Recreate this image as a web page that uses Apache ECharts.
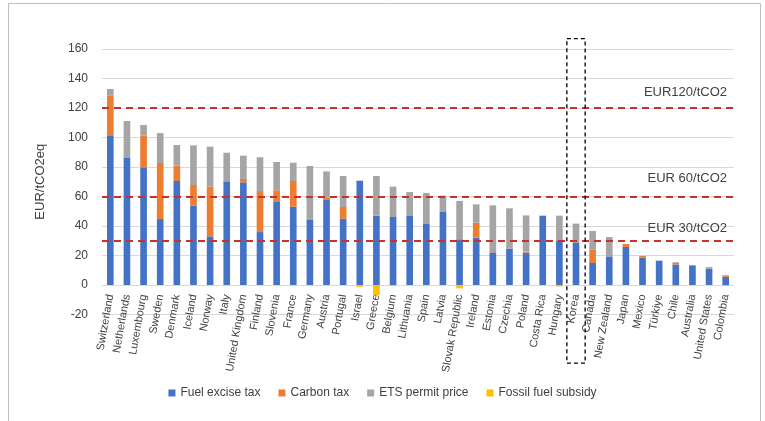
<!DOCTYPE html>
<html>
<head>
<meta charset="utf-8">
<script src="https://cdn.jsdelivr.net/npm/echarts@6/dist/echarts.min.js"></script>
<style>
html,body{margin:0;padding:0;background:#fff;}
#chart{width:765px;height:421px;}
</style>
</head>
<body>
<div id="chart"></div>
<script>
var countries = ["Switzerland","Netherlands","Luxembourg","Sweden","Denmark","Iceland","Norway","Italy","United Kingdom","Finland","Slovenia","France","Germany","Austria","Portugal","Israel","Greece","Belgium","Lithuania","Spain","Latvia","Slovak Republic","Ireland","Estonia","Czechia","Poland","Costa Rica","Hungary","Korea","Canada","New Zealand","Japan","Mexico","Türkiye","Chile","Australia","United States","Colombia"];
var fuelExcise = [101,86.1,79.3,44.7,70.5,53.8,33,70.3,69.6,35.9,56.7,53.1,44.5,58.1,45,70.7,47,46.1,47.2,41.4,49.7,31,32.1,21.7,24.6,21.9,47,30.3,28.5,14.9,19.4,25.8,18.5,16.5,13.8,13.3,11.1,5.6];
var carbonTax = [27.6,0,21.9,38,10.4,14,33.7,0,2.3,27.8,7.5,17.4,0.4,1,7.9,0,0,0,0,0,0.5,0,10.2,0,0,0.7,0,0,0,9.3,0,2,1.2,0,1.1,0,0,1];
var etsPrice = [4.3,25.1,7.3,20.3,14,26.9,27.1,19.4,15.8,22.9,19.2,12.4,35.8,17.9,21,0,26.9,20.6,15.8,21,10.4,26,12.4,32.3,27.4,24.6,0,16.7,13.1,12.4,13.1,0,0,0,0.5,0,1.1,0];
var fossilSubsidy = [0,0,0,0,0,0,0,0,0,0,0,0,0,0,0,-1.2,-7,-0.4,0,0,0,-2.3,0,0,0,0,0,-1,0,0,0,0,0,0,-0.8,0,0,-0.6];
var yTicks = {min:-20, max:160, interval:20};
var benchmarks = [120, 60, 30];
var benchmarkLabels = ["EUR120/tCO2", "EUR 60/tCO2", "EUR 30/tCO2"];
var seriesNames = ["Fuel excise tax","Carbon tax","ETS permit price","Fossil fuel subsidy"];
var highlighted = "Korea";

var FONT = "'Liberation Sans', Arial, sans-serif";
var colors = ['#4472C4','#ED7D31','#A5A5A5','#FFC000'];
var chart = echarts.init(document.getElementById('chart'), null, {renderer:'canvas'});

var labelDist = [9, 12, 6];
var markData = benchmarks.map(function(v, i){
  return {
    yAxis: v,
    label: {
      show: true, formatter: benchmarkLabels[i], position: 'insideEndTop',
      distance: [7, labelDist[i]], color: '#404040', fontSize: 13, fontFamily: FONT
    }
  };
});

function mkSeries(name, data, idx){
  var s = {
    name: name, type: 'bar', stack: 'total', data: data, barWidth: '40%',
    itemStyle: {color: colors[idx]}, emphasis: {disabled: true}
  };
  if (idx === 0) {
    s.markLine = {
      silent: true, symbol: 'none',
      lineStyle: {color: '#C8302C', type: [7, 5], width: 2},
      data: markData, z: 10
    };
  }
  return s;
}

var option = {
  animation: false,
  textStyle: {fontFamily: FONT},
  grid: {left: 102, right: 31, top: 49, bottom: 106.5, containLabel: false},
  legend: {
    data: seriesNames, bottom: 17, left: 'center', itemWidth: 7, itemHeight: 7, itemGap: 18,
    icon: 'rect', textStyle: {color: '#404040', fontSize: 12, fontFamily: FONT}
  },
  xAxis: {
    type: 'category', data: countries,
    axisLine: {show: false, onZero: false}, axisTick: {show: false},
    axisLabel: {interval: 0, rotate: 80, color: '#404040', fontSize: 11, fontFamily: FONT, margin: -20}
  },
  yAxis: {
    type: 'value', min: yTicks.min, max: yTicks.max, interval: yTicks.interval,
    name: 'EUR/tCO2eq', nameLocation: 'middle', nameGap: 55, nameRotate: 90,
    nameTextStyle: {color: '#404040', fontSize: 13, fontFamily: FONT},
    axisLine: {show: false}, axisTick: {show: false},
    axisLabel: {color: '#404040', fontSize: 12, fontFamily: FONT, margin: 14},
    splitLine: {lineStyle: {color: '#D9D9D9', width: 1}}
  },
  series: [
    mkSeries(seriesNames[0], fuelExcise, 0),
    mkSeries(seriesNames[1], carbonTax, 1),
    mkSeries(seriesNames[2], etsPrice, 2),
    mkSeries(seriesNames[3], fossilSubsidy, 3)
  ]
};
chart.setOption(option);

// Highlight box around Korea and outer frame
var cx = chart.convertToPixel({xAxisIndex: 0}, highlighted);
var band = (765 - 102 - 31) / countries.length;
var yTop = chart.convertToPixel({yAxisIndex: 0}, 167);
var yBot = chart.convertToPixel({yAxisIndex: 0}, -53);
var boxW = band * 1.1;
chart.setOption({
  graphic: [
    {type: 'rect', silent: true, z: 100,
     shape: {x: cx - boxW/2, y: yTop, width: boxW, height: yBot - yTop},
     style: {fill: 'none', stroke: '#000', lineWidth: 1.3, lineDash: [4, 3]}},
    {type: 'rect', silent: true, z: 0,
     shape: {x: 8.5, y: 3.5, width: 752, height: 440},
     style: {fill: 'none', stroke: '#BFBFBF', lineWidth: 1}}
  ]
});
</script>
</body>
</html>
